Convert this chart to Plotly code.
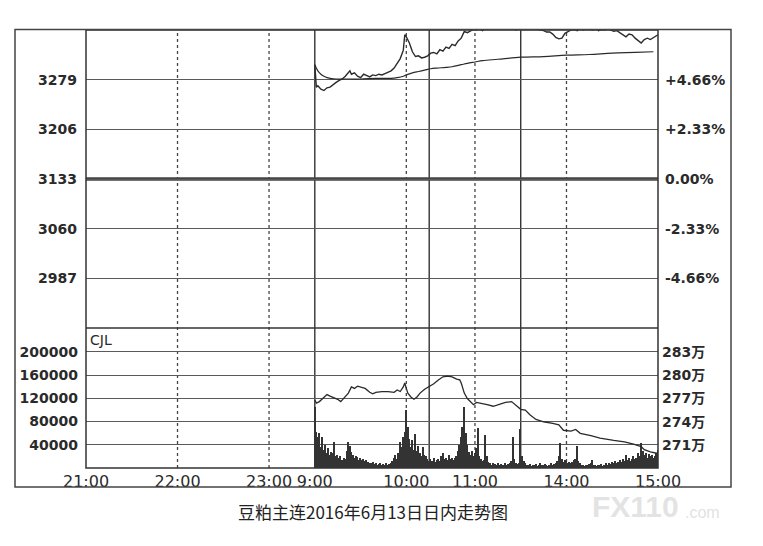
import plotly.graph_objects as go

# ---------------- data ----------------
# x axis: minutes on a compressed session axis (21:00-23:30 night, then 9:00-10:15, 10:30-11:30, 13:30-15:00)
tick_pos = [0, 60, 120, 150, 210, 255, 315, 375]
tick_text = ["21:00", "22:00", "23:00", "9:00", "10:00", "11:00", "14:00", "15:00"]
day_start = 150  # position of 9:00 on the axis

# price (minutes after 9:00 in trading time)
price_t = [0, 1, 2, 4, 6, 8, 10, 12, 14, 16, 18, 20, 22, 23, 24, 26, 28, 30, 32, 34, 36, 38, 40, 42, 44,
           46, 48, 50, 52, 54, 56, 58, 59, 60, 62, 64, 66, 68, 70, 72, 74, 76, 78, 80, 82, 84, 86, 88, 90,
           92, 94, 96, 98, 100, 102, 104, 106, 108, 110, 112, 114, 116, 118, 120, 122, 124, 126, 128, 130,
           132, 134, 136, 138, 140, 142, 144, 146, 148, 150, 152, 154, 156, 158, 160, 162, 164, 166, 168,
           170, 172, 174, 176, 178, 180, 182, 184, 186, 188, 190, 192, 194, 196, 198, 200, 202, 204, 206,
           208, 210, 212, 214, 216, 218, 220, 222, 224, 225]
price = [3301, 3268, 3270, 3265, 3263, 3267, 3268, 3272, 3275, 3278, 3280, 3284, 3290, 3292, 3287, 3289,
         3284, 3282, 3287, 3285, 3283, 3286, 3285, 3287, 3286, 3288, 3290, 3292, 3296, 3303, 3310, 3322,
         3345, 3342, 3333, 3320, 3313, 3314, 3311, 3312, 3314, 3318, 3319, 3317, 3323, 3321, 3327, 3325,
         3331, 3329, 3336, 3340, 3350, 3348, 3350, 3353, 3352, 3354, 3351, 3355, 3353, 3355, 3354, 3356,
         3353, 3355, 3354, 3353, 3354, 3352, 3355, 3355, 3354, 3356, 3355, 3354, 3353, 3353, 3351, 3349,
         3349, 3346, 3341, 3339, 3340, 3347, 3350, 3352, 3353, 3351, 3354, 3352, 3355, 3353, 3352, 3354,
         3351, 3353, 3352, 3354, 3352, 3350, 3351, 3348, 3346, 3342, 3346, 3345, 3340, 3336, 3333, 3338,
         3340, 3338, 3341, 3344, 3345]

avg_t = [0, 2, 4, 6, 8, 10, 14, 20, 30, 40, 50, 54, 58, 60, 64, 68, 72, 76, 80, 86, 90, 96, 100, 105,
         110, 120, 135, 150, 165, 180, 195, 210, 222]
avg_price = [3301, 3292, 3287, 3284, 3282, 3281, 3280, 3280, 3280, 3281, 3281, 3282, 3284, 3286, 3289,
             3291, 3293, 3295, 3296, 3297, 3298, 3301, 3303, 3305, 3307, 3309, 3312, 3313, 3315, 3316,
             3318, 3319, 3320]

# volume (CJL), one bar per minute from 9:00
volume = [105000, 62000, 54000, 60000, 37000, 54000, 31000, 40000, 26000, 34000,
          22000, 28000, 25000, 45000, 20000, 22000, 17000, 20000, 14000, 18000,
          16000, 30000, 45000, 38000, 28000, 22000, 18000, 20000, 19000, 14000,
          17000, 13000, 15000, 12000, 14000, 10000, 9000, 8000, 10000, 7000,
          8000, 6000, 7000, 9000, 6000, 7000, 5000, 8000, 6000, 7000,
          9000, 12000, 17000, 22000, 15000, 26000, 45000, 37000, 54000, 62000,
          100000, 71000, 50000, 37000, 48000, 31000, 58000, 30000, 38000, 25000,
          20000, 36000, 22000, 20000, 15000, 12000, 15000, 12000, 18000, 10000,
          14000, 16000, 12000, 20000, 25000, 15000, 18000, 14000, 22000, 16000,
          18000, 13000, 17000, 20000, 30000, 40000, 54000, 70000, 105000, 60000,
          40000, 28000, 22000, 30000, 20000, 25000, 35000, 69000, 20000, 15000,
          12000, 14000, 57000, 20000, 10000, 8000, 6000, 9000, 7000, 6000,
          8000, 5000, 7000, 6000, 5000, 8000, 6000, 7000, 9000, 12000,
          54000, 15000, 9000, 7000, 8000, 68000, 20000, 12000, 8000, 6000,
          5000, 7000, 4000, 6000, 5000, 7000, 4000, 5000, 8000, 6000,
          5000, 7000, 6000, 4000, 6000, 8000, 5000, 7000, 9000, 12000,
          20000, 43000, 15000, 10000, 14000, 12000, 9000, 11000, 8000, 10000,
          13000, 15000, 38000, 12000, 8000, 6000, 5000, 4000, 6000, 5000,
          7000, 9000, 14000, 6000, 5000, 4000, 6000, 5000, 7000, 4000,
          6000, 8000, 6000, 9000, 7000, 10000, 8000, 12000, 9000, 11000,
          14000, 10000, 16000, 12000, 22000, 14000, 18000, 12000, 16000, 20000,
          15000, 18000, 25000, 20000, 43000, 30000, 22000, 25000, 18000, 24000,
          20000, 22000, 18000, 20000, 25000, 31000]

# open interest line (万)
oi_t = [0, 1, 3, 5, 8, 10, 15, 17, 20, 22, 24, 26, 28, 30, 33, 36, 38, 40, 44, 48, 52, 54, 56, 58, 59,
        60, 61, 63, 65, 67, 69, 72, 75, 78, 81, 84, 87, 90, 93, 95, 96, 98, 100, 102, 104, 106, 109, 113,
        117, 122, 125, 129, 133, 135, 138, 141, 145, 150, 156, 160, 163, 168, 171, 174, 181, 187, 196,
        203, 209, 214, 216, 220, 225]
oi = [276.8, 276.4, 276.6, 277.0, 277.5, 277.3, 276.9, 276.6, 277.2, 277.7, 278.5, 278.3, 278.6, 278.5,
      278.3, 277.8, 277.6, 277.8, 277.9, 277.9, 277.8, 278.1, 277.9, 278.5, 279.0, 278.3, 277.7, 277.2,
      276.9, 277.2, 277.7, 278.2, 278.5, 278.9, 279.4, 279.8, 279.9, 279.8, 279.5, 279.4, 279.0, 277.7,
      277.0, 276.6, 276.2, 276.5, 276.4, 276.2, 276.0, 276.3, 276.5, 276.6, 276.0, 275.6, 275.5, 274.9,
      274.3, 274.0, 273.8, 273.6, 272.9, 272.8, 273.0, 272.5, 272.2, 271.9, 271.6, 271.4, 271.1, 270.8,
      270.4, 270.1, 269.9]

price_ticks = [2987, 3060, 3133, 3206, 3279]
pct_text = ["-4.66%", "-2.33%", "0.00%", "+2.33%", "+4.66%"]
vol_ticks = [40000, 80000, 120000, 160000, 200000]
oi_ticks = [271, 274, 277, 280, 283]
oi_text = ["271万", "274万", "277万", "280万", "283万"]
dotted_pos = [60, 120, 210, 255, 315]
solid_pos = [150, 225, 285]
caption = "豆粕主连2016年6月13日日内走势图"

# ---------------- figure ----------------
OFF = 8                      # page body margin in the browser
W, H = 763 - OFF, 546 - OFF
PL, PR, PT, PB = 86, 658, 30, 468   # plot area in screen pixels
L, T = PL - OFF, PT - OFF
R, B = W - (PR - OFF), H - (PB - OFF)
plot_w = PR - PL
plot_h = PB - PT
split = 140 / plot_h  # volume panel height share


def px(xs):
    return (xs - PL) / plot_w


def py(ys):
    return (PB - ys) / plot_h


ink = "#2a2a2a"
grid = "#5a5a5a"
num_font = dict(family="DejaVu Sans", size=14, color=ink, weight="bold")

fig = go.Figure()
fig.add_trace(go.Scatter(x=[day_start + t for t in price_t], y=price, mode="lines",
                         line=dict(color=ink, width=1.4), xaxis="x", yaxis="y", hoverinfo="skip"))
fig.add_trace(go.Scatter(x=[day_start + t for t in avg_t], y=avg_price, mode="lines",
                         line=dict(color=ink, width=1.2, shape="spline"), xaxis="x", yaxis="y",
                         hoverinfo="skip"))
fig.add_trace(go.Scatter(x=[0], y=[3133], mode="markers", marker=dict(opacity=0),
                         xaxis="x", yaxis="y2", hoverinfo="skip"))
fig.add_trace(go.Bar(x=[day_start + i for i in range(len(volume))], y=volume, width=1.0,
                     marker=dict(color="#333333", line=dict(width=0)), xaxis="x", yaxis="y3",
                     hoverinfo="skip"))
fig.add_trace(go.Scatter(x=[day_start + t for t in oi_t], y=oi, mode="lines",
                         line=dict(color=ink, width=1.3), xaxis="x", yaxis="y4", hoverinfo="skip"))

shapes = []
for p in dotted_pos:
    shapes.append(dict(type="line", xref="x", yref="paper", x0=p, x1=p, y0=0, y1=1,
                       line=dict(color="#444", width=1.3, dash="dot"), layer="below"))
for p in solid_pos:
    shapes.append(dict(type="line", xref="x", yref="paper", x0=p, x1=p, y0=0, y1=1,
                       line=dict(color="#333", width=1.4), layer="below"))
shapes.append(dict(type="line", xref="paper", yref="y", x0=0, x1=1, y0=3133, y1=3133,
                   line=dict(color="#444", width=3.5), layer="below"))
shapes.append(dict(type="line", xref="paper", yref="paper", x0=0, x1=1, y0=split, y1=split,
                   line=dict(color="#333", width=1.6)))
shapes.append(dict(type="rect", xref="paper", yref="paper", x0=0, x1=1, y0=0, y1=1,
                   line=dict(color="#333", width=1.5)))
shapes.append(dict(type="rect", xref="paper", yref="paper",
                   x0=px(15), x1=px(731), y0=py(487), y1=py(29.5),
                   line=dict(color="#444", width=1.5)))

annotations = [
    dict(text="CJL", xref="paper", yref="paper", x=px(88), y=py(339.5),
         xanchor="left", yanchor="middle", showarrow=False,
         font=dict(family="DejaVu Sans", size=14, color=ink)),
    dict(text=caption, xref="paper", yref="paper", x=px(373), y=py(511),
         xanchor="center", yanchor="middle", showarrow=False,
         font=dict(family="Noto Sans CJK SC", size=17, color="#222")),
    dict(text="<b>FX110</b>", xref="paper", yref="paper", x=px(590), y=py(507),
         xanchor="left", yanchor="middle", showarrow=False,
         font=dict(family="Liberation Sans", size=30, color="rgba(200,200,200,0.5)")),
    dict(text=".com", xref="paper", yref="paper", x=px(683), y=py(512),
         xanchor="left", yanchor="middle", showarrow=False,
         font=dict(family="Liberation Sans", size=16, color="rgba(200,200,200,0.55)")),
]

fig.update_layout(
    width=W, height=H,
    margin=dict(l=L, r=R, t=T, b=B, pad=0),
    paper_bgcolor="white", plot_bgcolor="white",
    showlegend=False, bargap=0,
    shapes=shapes, annotations=annotations,
    xaxis=dict(domain=[0, 1], range=[0, 375], anchor="y3", tickmode="array",
               tickvals=tick_pos, ticktext=tick_text, showgrid=False, zeroline=False,
               showline=False, ticks="", ticklabelstandoff=2,
               tickfont=dict(family="DejaVu Sans", size=16, color=ink)),
    yaxis=dict(domain=[split, 1], range=[2914, 3352], anchor="x", tickmode="array",
               tickvals=price_ticks, showgrid=True, gridcolor=grid, gridwidth=1,
               zeroline=False, showline=False, ticks="", ticklabelstandoff=8,
               tickfont=num_font),
    yaxis2=dict(overlaying="y", side="right", anchor="x", range=[2914, 3352], tickmode="array",
                tickvals=price_ticks, ticktext=pct_text, showgrid=False, zeroline=False,
                showline=False, ticks="", ticklabelstandoff=6, tickfont=num_font),
    yaxis3=dict(domain=[0, split], range=[0, 241000], anchor="x", tickmode="array",
                tickvals=vol_ticks, ticktext=[str(v) for v in vol_ticks], showgrid=True,
                gridcolor=grid, gridwidth=1.3, zeroline=False, showline=False, ticks="",
                ticklabelstandoff=7, tickfont=num_font),
    yaxis4=dict(overlaying="y3", side="right", anchor="x", range=[268.03, 286.1], tickmode="array",
                tickvals=oi_ticks, ticktext=oi_text, showgrid=False, zeroline=False,
                showline=False, ticks="", ticklabelstandoff=3,
                tickfont=dict(family="DejaVu Sans, Noto Sans CJK SC", size=14, color=ink,
                              weight="bold")),
)

fig.write_html("out.html")
